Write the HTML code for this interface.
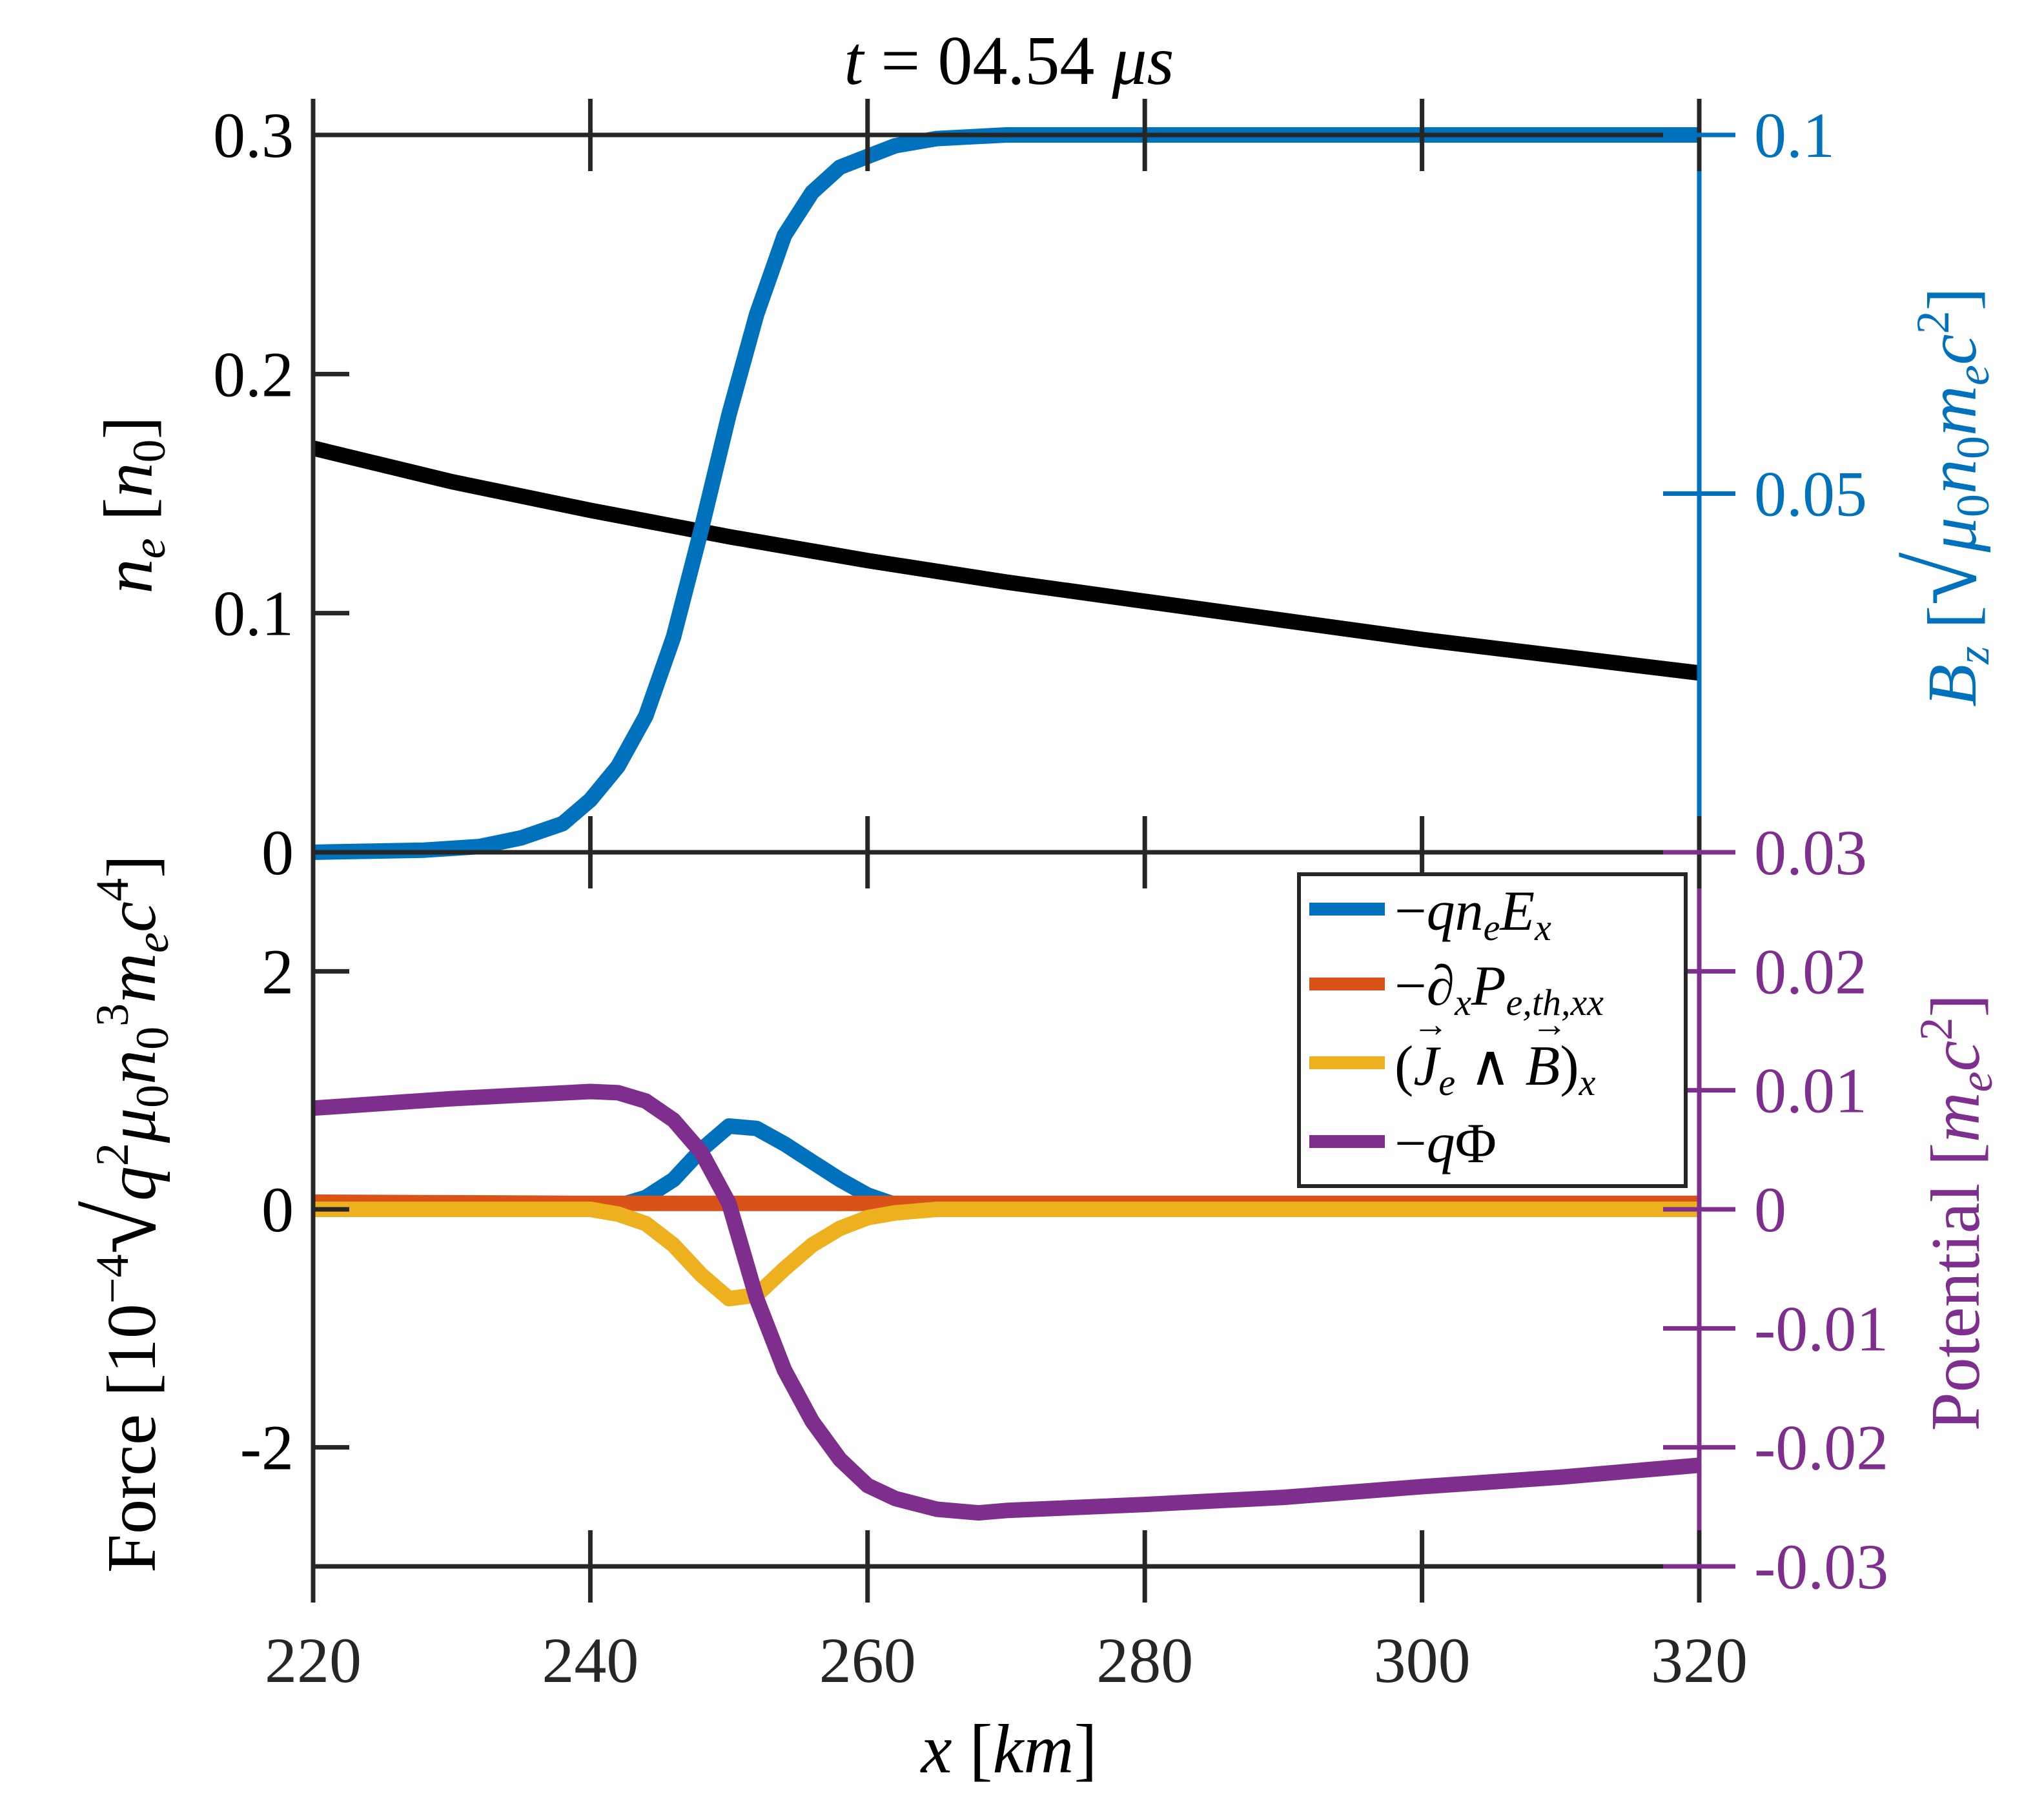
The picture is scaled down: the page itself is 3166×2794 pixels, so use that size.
<!DOCTYPE html>
<html><head><meta charset="utf-8"><style>
html,body{margin:0;padding:0;background:#fff}
svg{display:block}
text{font-family:"Liberation Serif",serif}
</style></head><body>
<svg id="chart" width="3166" height="2794" viewBox="0 0 3166 2794" xmlns="http://www.w3.org/2000/svg">
<rect width="3166" height="2794" fill="#fff"/>
<g id="plots"></g>
<g id="axes"></g>
<text x="1563" y="130" font-size="108" text-anchor="middle"><tspan font-style="italic">t</tspan> = 04.54 <tspan font-style="italic">μs</tspan></text>
<text x="1563" y="2745" font-size="108" text-anchor="middle"><tspan font-style="italic">x</tspan> [<tspan font-style="italic">km</tspan>]</text>
<text transform="translate(235,782) rotate(-90)" font-size="108" text-anchor="middle"><tspan font-style="italic">n</tspan><tspan font-style="italic" font-size="72" dy="20">e</tspan><tspan dy="-20">  [</tspan><tspan font-style="italic">n</tspan><tspan font-size="72" dy="20">0</tspan><tspan dy="-20">]</tspan></text>
<text transform="translate(240,1880) rotate(-90)" font-size="108" text-anchor="middle">Force  [10<tspan font-size="72" dy="-42">−4</tspan><tspan dy="42" font-size="150">√</tspan><tspan font-style="italic">q</tspan><tspan font-size="72" dy="-42">2</tspan><tspan dy="42" font-style="italic">μ</tspan><tspan font-size="72" dy="20">0</tspan><tspan dy="-20" font-style="italic">n</tspan><tspan font-size="72" dy="20">0</tspan><tspan font-size="72" dy="-62">3</tspan><tspan dy="42" font-style="italic">m</tspan><tspan font-style="italic" font-size="72" dy="20">e</tspan><tspan dy="-20" font-style="italic">c</tspan><tspan font-size="72" dy="-42">4</tspan><tspan dy="42">]</tspan></text>
<text transform="translate(3060,770) rotate(-90)" font-size="108" text-anchor="middle" fill="#0072BD"><tspan font-style="italic">B</tspan><tspan font-style="italic" font-size="72" dy="20">z</tspan><tspan dy="-20"> [</tspan><tspan font-size="150">√</tspan><tspan font-style="italic">μ</tspan><tspan font-size="72" dy="20">0</tspan><tspan dy="-20" font-style="italic">n</tspan><tspan font-size="72" dy="20">0</tspan><tspan dy="-20" font-style="italic">m</tspan><tspan font-style="italic" font-size="72" dy="20">e</tspan><tspan dy="-20" font-style="italic">c</tspan><tspan font-size="72" dy="-42">2</tspan><tspan dy="42">]</tspan></text>
<text transform="translate(3065,1878) rotate(-90)" font-size="108" text-anchor="middle" fill="#7E2F8E">Potential  [<tspan font-style="italic">m</tspan><tspan font-style="italic" font-size="72" dy="20">e</tspan><tspan dy="-20" font-style="italic">c</tspan><tspan font-size="72" dy="-42">2</tspan><tspan dy="42">]</tspan></text>
<g id="legend">
<rect x="2012" y="1354" width="599" height="483" fill="#fff" stroke="#262626" stroke-width="6"/>
<g><line x1="2028" y1="1408" x2="2145" y2="1408" stroke="#0072BD" stroke-width="20"/><text x="2160" y="1440" font-size="88">−<tspan font-style="italic">qn</tspan><tspan font-style="italic" font-size="58" dy="16">e</tspan><tspan font-style="italic" dy="-16">E</tspan><tspan font-style="italic" font-size="58" dy="16">x</tspan></text></g>
<g><line x1="2028" y1="1524" x2="2145" y2="1524" stroke="#D95319" stroke-width="20"/><text x="2160" y="1556" font-size="88">−∂<tspan font-style="italic" font-size="58" dy="16">x</tspan><tspan font-style="italic" dy="-16">P</tspan><tspan font-style="italic" font-size="58" dy="16">e,th,xx</tspan></text></g>
<g><line x1="2028" y1="1646" x2="2145" y2="1646" stroke="#EDB120" stroke-width="20"/><text x="2160" y="1680" font-size="88">(<tspan font-style="italic">J</tspan><tspan font-style="italic" font-size="58" dy="16">e</tspan><tspan dy="-16"> ∧ </tspan><tspan font-style="italic">B</tspan>)<tspan font-style="italic" font-size="58" dy="16">x</tspan></text><text x="2188" y="1605" font-size="56">→</text><text x="2372" y="1605" font-size="56">→</text></g>
<g><line x1="2028" y1="1768" x2="2145" y2="1768" stroke="#7E2F8E" stroke-width="20"/><text x="2160" y="1800" font-size="88">−<tspan font-style="italic">q</tspan>Φ</text></g>
</g>
</svg>
<script>
const xs_ne = [220,230,240,250,260,270,280,290,300,310,320];
const ne_vals = [0.169,0.155,0.143,0.132,0.122,0.113,0.105,0.097,0.089,0.082,0.075];
const xs_bz = [220,228,232,235,238,240,242,244,246,248,250,252,254,256,258,260,262,265,270,320];
const bz_vals = [0,0.0003,0.0008,0.002,0.004,0.0073,0.012,0.019,0.03,0.045,0.061,0.075,0.086,0.092,0.0955,0.097,0.0985,0.0995,0.1,0.1];
const xs_f = [220,240,242,244,246,248,250,252,254,256,258,260,262,265,270,320];
const fe_vals = [0,0,0.03,0.1,0.25,0.5,0.7,0.68,0.55,0.4,0.25,0.12,0.04,0,0,0];
const fp_vals = [0.06,0.05,0.05,0.05,0.05,0.05,0.05,0.05,0.05,0.05,0.05,0.05,0.05,0.05,0.05,0.05];
const fj_vals = [0,0,-0.04,-0.12,-0.3,-0.55,-0.75,-0.72,-0.5,-0.3,-0.16,-0.07,-0.03,0,0,0];
const xs_phi = [220,230,240,242,244,246,248,250,252,254,256,258,260,262,265,268,270,280,290,300,310,320];
const phi_vals = [0.0085,0.0093,0.0099,0.0098,0.0091,0.0075,0.0048,0.0005,-0.0075,-0.0135,-0.0178,-0.021,-0.0232,-0.0243,-0.0252,-0.0255,-0.0253,-0.0248,-0.0242,-0.0233,-0.0225,-0.0215];
const xTicks = [220,240,260,280,300,320];
const neTicks = [0,0.1,0.2,0.3];
const neTickLabels = ['0','0.1','0.2','0.3'];
const bzTicks = [0.05,0.1];
const bzTickLabels = ['0.05','0.1'];
const fTicks = [-2,0,2];
const fTickLabels = ['-2','0','2'];
const phiTicks = [-0.03,-0.02,-0.01,0,0.01,0.02,0.03];
const phiTickLabels = ['-0.03','-0.02','-0.01','0','0.01','0.02','0.03'];

const L=485,R=2632,T1=209,B1=1320,T2=1320,B2=2426;
const X=v=>L+(v-220)/100*(R-L);
const Yne=v=>B1-v/0.3*(B1-T1);
const Ybz=v=>B1-v/0.1*(B1-T1);
const Yf=v=>T2+(3-v)/6*(B2-T2);
const Yphi=v=>T2+(0.03-v)/0.06*(B2-T2);
const NS='http://www.w3.org/2000/svg';
const plots=document.getElementById('plots'), axes=document.getElementById('axes');
function mk(tag,attrs,parent){const e=document.createElementNS(NS,tag);for(const k in attrs)e.setAttribute(k,attrs[k]);parent.appendChild(e);return e;}
function line(xs,ys,fx,fy,color,name){
  const d=xs.map((x,i)=>(i?'L':'M')+X(x).toFixed(1)+','+fy(ys[i]).toFixed(1)).join('');
  const p=mk('path',{d:d,fill:'none',stroke:color,'stroke-width':24,'stroke-linejoin':'round'},plots);
  
  
}
line(xs_ne,ne_vals,X,Yne,'#000','ne-line');
line(xs_bz,bz_vals,X,Ybz,'#0072BD','bz-line');
line(xs_f,fe_vals,X,Yf,'#0072BD','qneEx-line');
line(xs_f,fp_vals,X,Yf,'#D95319','pressure-line');
line(xs_f,fj_vals,X,Yf,'#EDB120','jxb-line');
line(xs_phi,phi_vals,X,Yphi,'#7E2F8E','potential-line');

const ax='#262626';
function seg(x1,y1,x2,y2,c,name){const e=mk('line',{x1:x1,y1:y1,x2:x2,y2:y2,stroke:c,'stroke-width':7},axes);
  
  }
function txt(x,y,s,anchor,c,name){const e=mk('text',{x:x,y:y,'font-size':100,'text-anchor':anchor,fill:c},axes);e.textContent=s;
  
  }
[T1,B1,B2].forEach(y=>seg(L,y,R,y,ax,'x-axis-line'));
seg(L,T1-56,L,B2+56,ax,'left-axis-line');
seg(R,T1,R,B1,'#0072BD','bz-axis-line');
seg(R,T2,R,B2+56,'#7E2F8E','potential-axis-line');
xTicks.forEach(v=>{[T1,B1,B2].forEach(y=>seg(X(v),y-56,X(v),y+56,ax,'x-tick'));
  txt(X(v),2605,String(v),'middle','#262626','x-tick-label');});
neTicks.forEach((v,i)=>{seg(L,Yne(v),L+56,Yne(v),ax,'ne-tick');txt(L-30,Yne(v)+34,neTickLabels[i],'end','#000','ne-tick-label');});
bzTicks.forEach((v,i)=>{seg(R-56,Ybz(v),R+56,Ybz(v),'#0072BD','bz-tick');txt(R+85,Ybz(v)+34,bzTickLabels[i],'start','#0072BD','bz-tick-label');});
fTicks.forEach((v,i)=>{seg(L,Yf(v),L+56,Yf(v),ax,'force-tick');txt(L-30,Yf(v)+34,fTickLabels[i],'end','#000','force-tick-label');});
phiTicks.forEach((v,i)=>{seg(R-56,Yphi(v),R+56,Yphi(v),'#7E2F8E','potential-tick');txt(R+85,Yphi(v)+34,phiTickLabels[i],'start','#7E2F8E','potential-tick-label');});
</script>
</body></html>
